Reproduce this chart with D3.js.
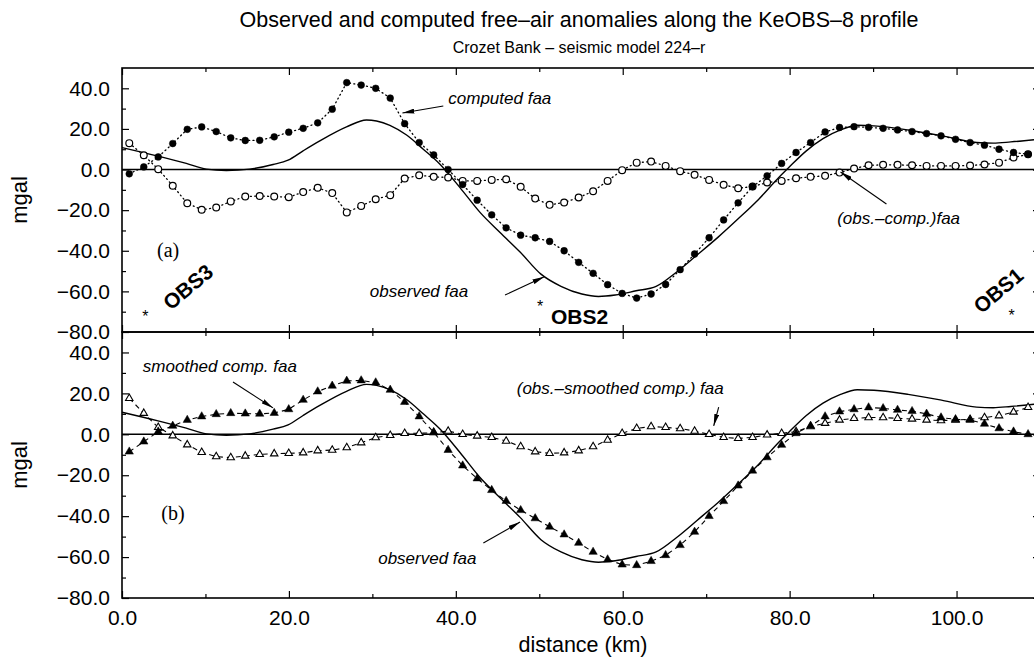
<!DOCTYPE html>
<html>
<head>
<meta charset="utf-8">
<script src="https://cdn.jsdelivr.net/npm/d3@7"></script>
<style>
body { margin: 0; background: #fff; }
svg { display: block; font-family: "Liberation Sans", Arial, Helvetica, sans-serif; }
</style>
</head>
<body>
<svg id="chart" width="1034" height="661"></svg>
<script>

// station positions along the profile (km)
var stationKm = [0.87, 2.61, 4.34, 6.08, 7.82, 9.55, 11.29, 13.03, 14.77, 16.50,
	18.24, 19.98, 21.71, 23.45, 25.19, 26.93, 28.66, 30.40, 32.14, 33.87,
	35.61, 37.35, 39.08, 40.82, 42.56, 44.30, 46.03, 47.77, 49.51, 51.24,
	52.98, 54.72, 56.45, 58.19, 59.93, 61.67, 63.40, 65.14, 66.88, 68.61,
	70.35, 72.09, 73.83, 75.56, 77.30, 79.04, 80.77, 82.51, 84.25, 85.98,
	87.72, 89.46, 91.20, 92.93, 94.67, 96.41, 98.14, 99.88, 101.62, 103.35,
	105.09, 106.83, 108.57];

// panel (a)
var computedFaa = [-2.1, 1.3, 6.2, 12.8, 19.8, 21.0, 18.7, 15.6, 14.3, 14.4,
	16.1, 18.4, 20.3, 23.0, 29.7, 42.8, 41.6, 40.0, 35.2, 22.6,
	13.3, 7.2, 0.0, -7.4, -15.1, -22.3, -28.7, -32.3, -33.6, -35.4,
	-40.0, -45.7, -51.1, -56.7, -61.0, -63.3, -61.3, -56.6, -49.3, -41.6,
	-33.6, -24.8, -16.4, -8.4, -3.1, 3.0, 8.4, 13.3, 18.5, 20.7,
	21.1, 20.8, 20.3, 19.5, 18.7, 17.7, 16.6, 14.9, 13.3, 12.0,
	10.0, 8.4, 7.5];

var obsMinusComp = [13.0, 7.0, 0.2, -8.0, -16.6, -19.8, -18.7, -15.7, -13.3, -13.0,
	-13.3, -13.6, -11.1, -9.0, -11.6, -21.1, -17.9, -14.6, -12.6, -4.4,
	-2.8, -3.6, -3.9, -5.6, -5.6, -5.1, -4.8, -8.5, -14.3, -17.4,
	-16.2, -13.8, -10.7, -5.6, -0.3, 3.4, 3.9, 1.8, -0.8, -2.6,
	-5.1, -7.5, -9.2, -8.4, -6.4, -5.6, -4.3, -3.6, -3.1, -1.5,
	0.5, 2.1, 2.3, 2.3, 2.1, 1.8, 1.8, 1.8, 2.0, 2.5,
	3.4, 5.9, 7.5];

// panel (b)
var smoothedComp = [-8.5, -3.6, 1.3, 4.1, 7.0, 8.7, 9.8, 10.3, 10.1, 10.0,
	10.4, 12.2, 16.8, 20.9, 23.7, 26.1, 26.3, 25.3, 21.7, 15.8,
	8.7, 1.0, -7.7, -15.3, -21.6, -27.3, -32.6, -37.1, -41.1, -45.2,
	-49.0, -53.1, -57.5, -61.2, -63.7, -64.0, -62.0, -59.1, -54.2, -47.7,
	-40.0, -32.7, -25.1, -17.8, -11.3, -5.2, 0.5, 4.1, 8.7, 11.1,
	12.2, 13.1, 12.7, 11.9, 11.3, 10.0, 8.2, 7.3, 7.0, 5.1,
	2.9, 1.3, 0.0];

var obsMinusSmoothed = [17.6, 10.3, 3.4, -0.7, -5.1, -8.8, -10.9, -11.4, -10.6, -9.8,
	-9.5, -9.3, -9.0, -8.0, -7.7, -6.5, -4.1, -1.6, -0.5, 0.5,
	0.5, 0.8, 1.6, 0.0, -0.8, -1.5, -3.3, -6.0, -8.5, -9.3,
	-9.0, -8.0, -6.0, -2.8, 0.5, 2.9, 3.8, 3.4, 2.8, 1.6,
	0.0, -1.5, -2.0, -1.5, -0.3, 0.5, 1.3, 3.8, 5.4, 7.0,
	7.8, 8.2, 8.2, 7.8, 7.5, 7.0, 6.7, 7.0, 7.3, 8.2,
	9.1, 10.9, 13.2];

// observed free-air anomaly (both panels)
var observedKm = [0, 4.2, 7.7, 10.1, 12.5, 15.3, 18.1, 19.9, 21.7, 23.7,
	26.9, 29.3, 30.5, 32.1, 34.1, 36.1, 38.1, 40.5, 42.9, 45.3,
	47.7, 50.2, 52.6, 55.1, 57.1, 59.1, 61.6, 64.0, 66.5, 68.9,
	71.4, 73.8, 76.3, 78.7, 79.9, 82.0, 84.0, 86.1, 88.1, 90.1,
	94.2, 98.3, 102.4, 104.4, 106.5, 110];
var observedFaa = [10.8, 6.7, 3.0, 0.2, -0.5, 0.2, 2.5, 4.6, 9.2, 14.1,
	21.0, 24.4, 23.9, 21.8, 17.0, 10.0, 2.6, -8.9, -21.1, -31.0,
	-40.6, -51.5, -57.5, -61.3, -62.5, -61.8, -59.7, -57.5, -50.3, -42.1,
	-33.4, -24.4, -14.6, -3.9, 1.0, 9.2, 15.2, 19.5, 21.8, 21.5,
	19.5, 16.6, 13.3, 13.0, 13.6, 15.0];

var yMajor = [-80, -60, -40, -20, 0, 20, 40];
var yMinor = [-70, -50, -30, -10, 10, 30];
var xMajor = [0, 20, 40, 60, 80, 100];
var xMinor = [10, 30, 50, 70, 90, 110];

var svg = d3.select("#chart");

var x = d3.scaleLinear().domain([0, 110]).range([122, 1040]);
var yTop = d3.scaleLinear().domain([-80, 50]).range([332, 68]);
var yBot = d3.scaleLinear().domain([-80, 50]).range([598, 332]);

var fmt = d3.format(".1f");

var defs = svg.append("defs");
defs.append("marker")
	.attr("id", "arr")
	.attr("viewBox", "0 0 12 5")
	.attr("refX", 12)
	.attr("refY", 2.5)
	.attr("markerWidth", 12)
	.attr("markerHeight", 5)
	.attr("markerUnits", "userSpaceOnUse")
	.attr("orient", "auto")
	.append("path")
	.attr("d", "M0,0L12,2.5L0,5Z")
	.attr("fill", "#000");

// titles
svg.append("text")
	.attr("x", 579).attr("y", 27)
	.attr("text-anchor", "middle")
	.style("font-size", "21.5px")
	.text("Observed and computed free\u2013air anomalies along the KeOBS\u20138 profile");

svg.append("text")
	.attr("x", 579).attr("y", 53)
	.attr("text-anchor", "middle")
	.style("font-size", "16px")
	.text("Crozet Bank \u2013 seismic model 224\u2013r");

function panel(y, showXLabels) {
	var g = svg.append("g");

	function clean(a) {
		a.select(".domain").remove();
		a.selectAll("line").attr("stroke", "#000").attr("stroke-width", 1.2);
		a.selectAll("text").style("font-size", "21px").attr("fill", "#000");
	}

	g.append("g").attr("transform", "translate(" + x(0) + ",0)")
		.call(d3.axisLeft(y).tickValues(yMajor).tickSize(-7).tickPadding(12).tickFormat(fmt))
		.call(clean);
	g.append("g").attr("transform", "translate(" + x(0) + ",0)")
		.call(d3.axisLeft(y).tickValues(yMinor).tickSize(-4).tickFormat(""))
		.call(clean);
	g.append("g").attr("transform", "translate(" + x(110) + ",0)")
		.call(d3.axisRight(y).tickValues(yMajor).tickSize(-7).tickFormat(""))
		.call(clean);
	g.append("g").attr("transform", "translate(" + x(110) + ",0)")
		.call(d3.axisRight(y).tickValues(yMinor).tickSize(-4).tickFormat(""))
		.call(clean);

	g.append("g").attr("transform", "translate(0," + y(50) + ")")
		.call(d3.axisTop(x).tickValues(xMajor).tickSize(-7).tickFormat(""))
		.call(clean);
	g.append("g").attr("transform", "translate(0," + y(50) + ")")
		.call(d3.axisTop(x).tickValues(xMinor).tickSize(-4).tickFormat(""))
		.call(clean);
	g.append("g").attr("transform", "translate(0," + y(-80) + ")")
		.call(d3.axisBottom(x).tickValues(xMajor).tickSize(-7).tickPadding(12)
			.tickFormat(showXLabels ? fmt : ""))
		.call(clean);
	g.append("g").attr("transform", "translate(0," + y(-80) + ")")
		.call(d3.axisBottom(x).tickValues(xMinor).tickSize(-4).tickFormat(""))
		.call(clean);

	g.append("rect")
		.attr("x", x(0)).attr("y", y(50))
		.attr("width", x(110) - x(0)).attr("height", y(-80) - y(50))
		.attr("fill", "none").attr("stroke", "#000").attr("stroke-width", 1.6);

	g.append("line")
		.attr("x1", x(0)).attr("x2", x(110))
		.attr("y1", y(0)).attr("y2", y(0))
		.attr("stroke", "#000").attr("stroke-width", 1.6);

	g.append("text")
		.attr("transform", "translate(27," + ((y(50) + y(-80)) / 2) + ") rotate(-90)")
		.attr("text-anchor", "middle")
		.style("font-size", "22px")
		.text("mgal");

	// observed faa, solid
	var obsLine = d3.line()
		.x(function(d, i){ return x(observedKm[i]); })
		.y(function(d){ return y(d); })
		.curve(d3.curveMonotoneX);
	g.append("path")
		.attr("d", obsLine(observedFaa))
		.attr("fill", "none").attr("stroke", "#000").attr("stroke-width", 1.4);

	return g;
}

function series(g, y, vals, dash, kind) {
	var line = d3.line()
		.x(function(d, i){ return x(stationKm[i]); })
		.y(function(d){ return y(d); });
	g.append("path")
		.attr("d", line(vals))
		.attr("fill", "none")
		.attr("stroke", "#000")
		.attr("stroke-width", kind.indexOf("Circle") >= 0 ? 1.3 : 1.1)
		.attr("stroke-linecap", kind.indexOf("Circle") >= 0 ? "round" : "butt")
		.attr("stroke-dasharray", dash);

	var pts = g.append("g").selectAll("path").data(vals).enter();
	if (kind === "fillCircle" || kind === "openCircle") {
		pts.append("circle")
			.attr("cx", function(d, i){ return x(stationKm[i]); })
			.attr("cy", function(d){ return y(d); })
			.attr("r", 3.4)
			.attr("fill", kind === "fillCircle" ? "#000" : "#fff")
			.attr("stroke", "#000")
			.attr("stroke-width", kind === "fillCircle" ? 0.5 : 1.2);
	} else {
		var sym = d3.symbol().type(d3.symbolTriangle).size(kind === "fillTri" ? 30 : 24);
		pts.append("path")
			.attr("d", sym)
			.attr("transform", function(d, i){ return "translate(" + x(stationKm[i]) + "," + y(d) + ")"; })
			.attr("fill", kind === "fillTri" ? "#000" : "#fff")
			.attr("stroke", "#000")
			.attr("stroke-width", kind === "fillTri" ? 0.5 : 1.1);
	}
}

function label(g, y, km, v, str, style) {
	var t = g.append("text")
		.attr("x", x(km)).attr("y", y(v))
		.text(str);
	if (style === "italic") t.style("font-size", "17px").style("font-style", "italic");
	if (style === "serif") t.style("font-size", "20px").style("font-family", "'Liberation Serif', 'Times New Roman', serif");
	if (style === "bold") t.style("font-size", "21px").style("font-weight", "bold");
	return t;
}

function arrow(g, y, k1, v1, k2, v2) {
	g.append("line")
		.attr("x1", x(k1)).attr("y1", y(v1))
		.attr("x2", x(k2)).attr("y2", y(v2))
		.attr("stroke", "#000").attr("stroke-width", 1.1)
		.attr("marker-end", "url(#arr)");
}

function rotLabel(g, y, km, v, str) {
	g.append("text")
		.attr("transform", "translate(" + x(km) + "," + y(v) + ") rotate(-40)")
		.attr("text-anchor", "middle")
		.attr("dominant-baseline", "central")
		.style("font-size", "21px").style("font-weight", "bold")
		.text(str);
}

function star(g, y, km, v) {
	g.append("text")
		.attr("x", x(km)).attr("y", y(v) + 9)
		.attr("text-anchor", "middle")
		.style("font-size", "16px")
		.text("*");
}

// ---- panel (a)
var ga = panel(yTop, false);
series(ga, yTop, obsMinusComp, "1,3.3", "openCircle");
series(ga, yTop, computedFaa, "1,3.3", "fillCircle");

label(ga, yTop, 39.1, 32.3, "computed faa", "italic");
arrow(ga, yTop, 38.5, 31.3, 33.6, 27.8);
label(ga, yTop, 85.7, -26.8, "(obs.\u2013comp.)faa", "italic");
arrow(ga, yTop, 91.6, -17.0, 86.1, -1.2);
label(ga, yTop, 29.7, -62.8, "observed faa", "italic");
arrow(ga, yTop, 45.9, -61.8, 50.6, -52.8);
label(ga, yTop, 4.2, -43.1, "(a)", "serif");

rotLabel(ga, yTop, 7.9, -57.8, "OBS3");
star(ga, yTop, 2.8, -70.6);
label(ga, yTop, 51.4, -76.1, "OBS2", "bold");
star(ga, yTop, 50.1, -65.8);
rotLabel(ga, yTop, 105.0, -59.5, "OBS1");
star(ga, yTop, 106.6, -70.1);

// ---- panel (b)
var gb = panel(yBot, true);
series(gb, yBot, obsMinusSmoothed, "5,4", "openTri");
series(gb, yBot, smoothedComp, "5,4", "fillTri");

label(gb, yBot, 2.5, 30.6, "smoothed comp. faa", "italic");
arrow(gb, yBot, 13.3, 25.6, 18.1, 12.9);
label(gb, yBot, 30.7, -63.4, "observed faa", "italic");
arrow(gb, yBot, 43.3, -53.1, 47.7, -42.9);
label(gb, yBot, 47.3, 19.7, "(obs.\u2013smoothed comp.) faa", "italic");
arrow(gb, yBot, 71.5, 13.3, 70.9, 4.1);
label(gb, yBot, 4.7, -41.9, "(b)", "serif");

svg.append("text")
	.attr("x", 583).attr("y", 652)
	.attr("text-anchor", "middle")
	.style("font-size", "21.5px")
	.text("distance (km)");

</script>
</body>
</html>
